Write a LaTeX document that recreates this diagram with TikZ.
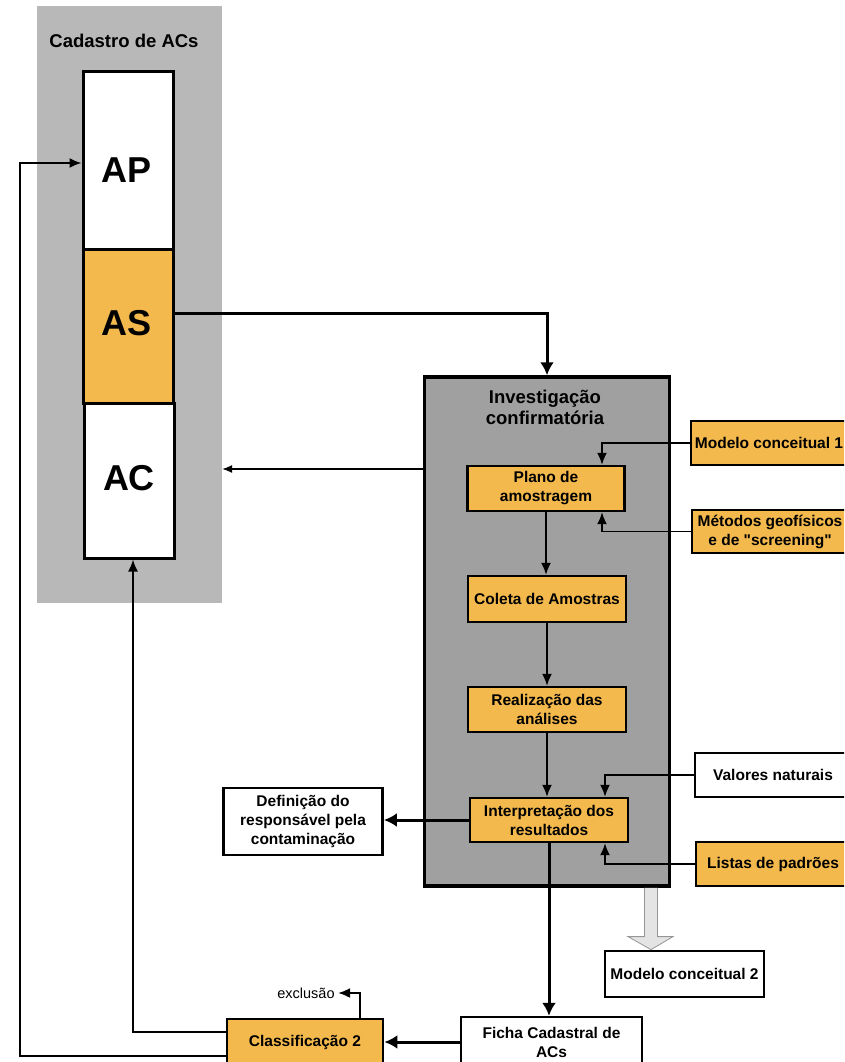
\documentclass[tikz,border=0pt]{standalone}
\usepackage{fontspec}
\setmainfont{Liberation Sans}
\newfontfamily\plainq{Liberation Sans}
\usetikzlibrary{arrows.meta,calc}
\definecolor{cadgray}{RGB}{184,184,184}
\definecolor{invgray}{RGB}{160,160,160}
\definecolor{orng}{RGB}{243,185,77}
\definecolor{hollowfill}{RGB}{228,228,228}
\definecolor{hollowdraw}{RGB}{150,150,150}
\newcommand{\sq}{{\plainq\bfseries "}}
\begin{document}
\begin{tikzpicture}[x=1pt,y=-1pt,
  box/.style={draw, line width=2.4pt, rectangle, inner sep=2pt, align=center, font=\bfseries\fontsize{15.5}{19}\selectfont},
  obox/.style={box, fill=orng},
  wbox/.style={box, fill=white},
  col/.style={draw, line width=3pt, minimum width=90pt, inner sep=0pt},
  big/.style={font=\bfseries\fontsize{36}{40}\selectfont},
  title/.style={align=center, font=\bfseries\fontsize{18.5}{21}\selectfont},
  thinarrow/.style={line width=1.8pt, -{Latex[length=12pt,width=10pt]}},
  hairarrow/.style={line width=1.2pt, -{Latex[length=10pt,width=8pt]}},
  thkarrow/.style={line width=3pt, -{Latex[length=13pt,width=14pt]}},
]
\useasboundingbox (0,0) rectangle (844,1062);
\clip (0,0) rectangle (844,1062);
\fill[white] (0,0) rectangle (844,1062);

% Cadastro de ACs
\node[fill=cadgray, minimum width=185pt, minimum height=597pt, inner sep=0pt] (cad) at (129.5,304.5) {};
\node[title] (cadT) at (124,41) {Cadastro de ACs};
\node[col, fill=white, minimum height=177pt] (ap) at (128,160.5) {};
\node[col, fill=orng, minimum height=154pt] (as) at (128,326) {};
\node[col, fill=white, minimum height=155pt] (ac) at (129,480.5) {};
\node[big] (apT) at (127,170) {AP};
\node[big] (asT) at (127,323) {AS};
\node[big] (acT) at (129,478) {AC};

% Investigacao confirmatoria
\node[draw, line width=3.5pt, fill=invgray, minimum width=245pt, minimum height=509pt, inner sep=0pt] (inv) at (547,631.5) {};
\node[title] (invT) at (545,407.5) {Investigação\\confirmatória};

\node[obox, minimum width=157pt, minimum height=45pt] (plano) at (546,488.5) {Plano de\\amostragem};
\node[obox, minimum width=158pt, minimum height=46pt] (coleta) at (547,599) {Coleta de Amostras};
\node[obox, minimum width=158pt, minimum height=45pt] (realiz) at (547,709.5) {Realização das\\análises};
\node[obox, minimum width=158pt, minimum height=44pt] (interp) at (549,820) {Interpretação dos\\resultados};

\node[wbox, line width=2.8pt, minimum width=159pt, minimum height=67pt] (defin) at (303,821.5) {Definição do\\responsável pela\\contaminação};
\node[obox, minimum width=156pt, minimum height=44pt] (mod1) at (769,443) {Modelo conceitual 1};
\node[obox, minimum width=156pt, minimum height=43pt] (metod) at (770,531.5) {Métodos geofísicos\\e de \sq screening\sq};
\node[wbox, minimum width=156pt, minimum height=44pt] (valor) at (773,775) {Valores naturais};
\node[obox, minimum width=154pt, minimum height=44pt] (listas) at (773,864) {Listas de padrões};
\node[wbox, line width=2.8pt, minimum width=159pt, minimum height=46pt] (mod2) at (684.5,974) {Modelo conceitual 2};
\node[wbox, minimum width=181pt, minimum height=50pt] (ficha) at (551.5,1042) {Ficha Cadastral de\\ACs};
\node[obox, line width=2.8pt, minimum width=156pt, minimum height=46pt] (class) at (305,1042) {Classificação 2};
\node[font=\fontsize{14.5}{17}\selectfont] (excl) at (306,993) {exclusão};

% hollow arrow
\coordinate (hTip) at ([xshift=-33.5pt]mod2.north);
\coordinate (hTop) at (hTip |- inv.south);
\filldraw[draw=hollowdraw, fill=hollowfill, line width=0.8pt]
  ($(hTop)+(-6.5,0)$) -- ($(hTip)+(-6.5,-13)$) -- ($(hTip)+(-23,-13)$) -- (hTip)
  -- ($(hTip)+(22,-13)$) -- ($(hTip)+(6.5,-13)$) -- ($(hTop)+(6.5,0)$);

% connectors
\draw[thkarrow] ([yshift=13pt]as.east) -| (inv.north);
\coordinate (yL) at (0,469);
\draw[hairarrow] (inv.west |- yL) -- (cad.east |- yL);
\draw[thinarrow] (plano.south) -- (plano.south |- coleta.north);
\draw[thinarrow] (coleta.south) -- (coleta.south |- realiz.north);
\draw[thinarrow] (realiz.south) -- (realiz.south |- interp.north);
\draw[thkarrow] (interp.west) -- (interp.west -| defin.east);
\draw[thkarrow] (interp.south) -- (interp.south |- ficha.north);
\draw[thkarrow] (ficha.west) -- (ficha.west -| class.east);
\draw[thinarrow] (mod1.west) -| ([xshift=56pt]plano.north);
\draw[thinarrow] (metod.west) -| ([xshift=56pt]plano.south);
\draw[thinarrow] (valor.west) -| ([xshift=56pt]interp.north);
\draw[thinarrow] (listas.west) -| ([xshift=56pt]interp.south);
\draw[thinarrow] ([xshift=55pt]class.north) |- (excl.east);
\draw[thinarrow] ([yshift=10pt]class.west) -| ([xshift=4pt]ac.south);
\coordinate (lp) at (20,163);
\draw[thinarrow] ([yshift=-14pt]class.west) -| (lp) -- (lp -| ap.west);
\end{tikzpicture}
\end{document}
